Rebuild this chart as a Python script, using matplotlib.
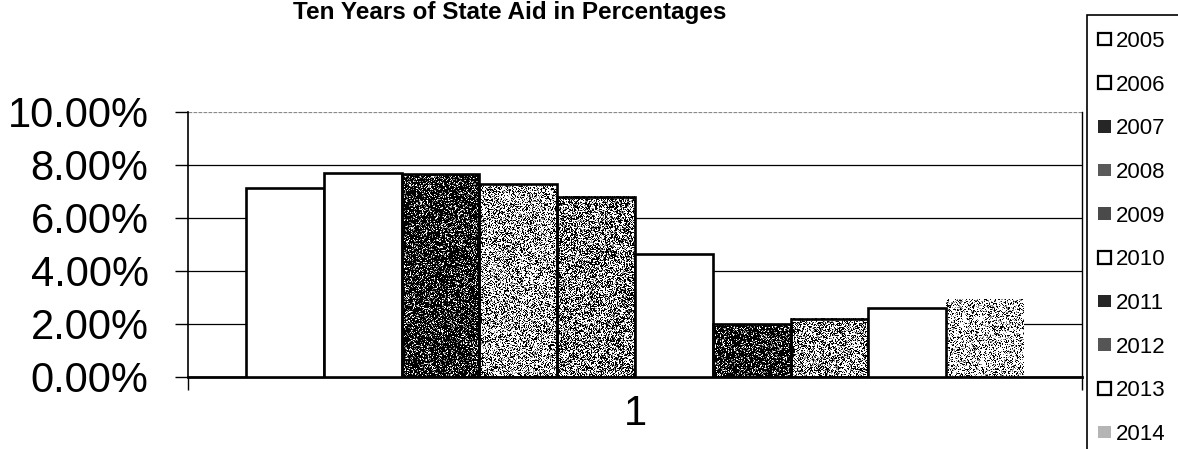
import numpy as np
import matplotlib.pyplot as plt
from matplotlib.patches import Patch, Rectangle
from matplotlib.ticker import FuncFormatter

plt.rcParams['font.family'] = ['Liberation Sans', 'DejaVu Sans']

years = ['2005', '2006', '2007', '2008', '2009', '2010', '2011', '2012', '2013', '2014']
aid_pct = [7.15, 7.7, 7.65, 7.28, 6.8, 4.64, 2.0, 2.19, 2.6, 2.94]
# share of light specks in each bar's stipple (None = plain white fill)
stipple = [None, None, 0.12, 0.55, 0.42, None, 0.12, 0.5, None, 0.62]
swatch = ['white', 'white', '#262626', '#5a5a5a', '#4a4a4a', 'white', '#262626', '#555555', 'white', '#b5b5b5']

fig = plt.figure(figsize=(11.78, 4.49), dpi=100)
ax = fig.add_axes([0.1596, 0.1604, 0.7589, 0.5902])

rng = np.random.default_rng(7)
group = 0.87
w = group / len(years)
xs = -group / 2 + w * (np.arange(len(years)) + 0.5)

for x, v, s in zip(xs, aid_pct, stipple):
    edge = 'black' if s is None or s < 0.6 else 'none'
    face = 'white' if s is None else 'none'
    bar = ax.bar(x, v, width=w, facecolor=face, edgecolor=edge,
                 linewidth=1.9, zorder=3)[0]
    if s is not None:
        ny, nx = int(v * 26.5) + 1, 78
        r = rng.random((ny, nx))
        tex = np.where(r < s, 1.0, np.where(r < s + 0.15, 0.55, 0.0))
        ax.imshow(tex, cmap='gray', vmin=0, vmax=1, aspect='auto',
                  interpolation='nearest', extent=[x - w / 2, x + w / 2, 0, v],
                  zorder=2.5, clip_path=bar, clip_on=True)

ax.set_xlim(-0.5, 0.5)
ax.set_ylim(0, 10)
ax.set_yticks(np.arange(0, 10.1, 2))
ax.yaxis.set_major_formatter(FuncFormatter(lambda y, _: f'{y:.2f}%'))
ax.tick_params(axis='y', labelsize=30, length=9.4, width=1, pad=19)

ax.set_xticks([-0.5, 0.5])
ax.set_xticklabels([])
ax.tick_params(axis='x', which='major', length=9.4, width=1, direction='out')
ax.set_xticks([0], minor=True)
ax.set_xticklabels(['1'], minor=True)
ax.tick_params(axis='x', which='minor', length=0, labelsize=30, pad=12)

ax.yaxis.grid(True, color='black', linewidth=0.9, zorder=0)
ax.set_axisbelow(True)
ax.get_ygridlines()[-1].set_color('#8a8a8a')
ax.get_ygridlines()[-1].set_linestyle((0, (3, 1)))

ax.spines['top'].set_visible(False)
ax.spines['left'].set_linewidth(1.2)
ax.spines['right'].set_linewidth(1.0)
ax.spines['bottom'].set_linewidth(2.0)

fig.text(0.433, 1 - 19 / 449, 'Ten Years of State Aid in Percentages',
         fontsize=17.5, fontweight='bold', ha='center', va='baseline')

# legend frame runs off the right and bottom edges of the figure
fig.add_artist(Rectangle((1087 / 1178, -0.1), 0.2, 1.1 - 15 / 449,
                         transform=fig.transFigure, fill=False,
                         edgecolor='black', linewidth=1.2))
handles = [Patch(facecolor=c, edgecolor='black' if c == 'white' else 'none',
                 linewidth=1.6) for c in swatch]
fig.legend(handles, years, loc='upper left',
           bbox_to_anchor=(1098 / 1178, 1 - 31 / 449), fontsize=16,
           frameon=False, borderaxespad=0, borderpad=0,
           labelspacing=1.02, handlelength=0.6, handleheight=0.5,
           handletextpad=0.2)

fig.savefig('out.png', dpi=100)
